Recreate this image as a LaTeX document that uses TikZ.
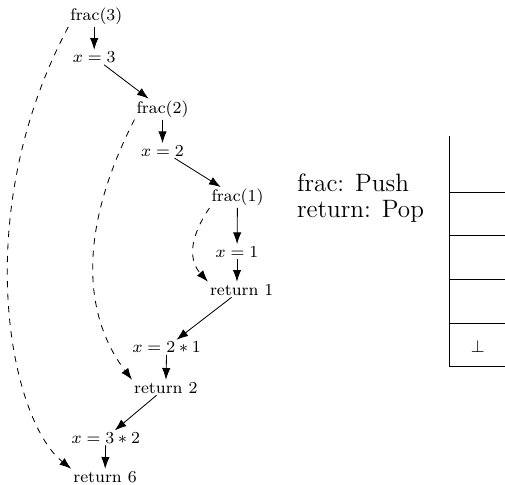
\documentclass[tikz,border=0pt]{standalone}
\usetikzlibrary{arrows.meta}
\begin{document}
\begin{tikzpicture}[x=0.4773pt,y=0.4773pt,
  state/.style={font=\footnotesize, inner sep=0.8pt, anchor=base},
  flow/.style={-{Latex[length=5.6pt,width=4pt]}},
  back/.style={flow, dashed},
  legend/.style={font=\large, inner sep=0pt, anchor=base west}]
\useasboundingbox (0,0) rectangle (505,-484);

% call / return chain
\node[state] (f3)  at (96.3,-20.7)  {frac(3)};
\node[state] (x3)  at (94.2,-62.7)  {$x=3$};
\node[state] (f2)  at (162.5,-113.3) {frac(2)};
\node[state] (x2)  at (162.5,-156)  {$x=2$};
\node[state] (f1)  at (237.5,-201.7) {frac(1)};
\node[state] (x1)  at (237,-257)    {$x=1$};
\node[state] (r1)  at (241.7,-295)  {return 1};
\node[state] (x21) at (166.7,-352.7) {$x=2*1$};
\node[state] (r2)  at (165.8,-393)  {return 2};
\node[state] (x32) at (105.8,-443.3) {$x=3*2$};
\node[state] (r6)  at (105,-482)    {return 6};

\draw[flow] (f3.south -| x3) -- (x3);
\draw[flow] (x3) -- (f2);
\draw[flow] (f2) -- (x2);
\draw[flow] (x2) -- (f1);
\draw[flow] (f1) -- (x1);
\draw[flow] (x1) -- (x1 |- r1.north);
\draw[flow] (r1) -- (x21);
\draw[flow] (x21) -- (r2);
\draw[flow] (r2) -- (x32);
\draw[flow] (x32) -- (r6);

% each call paired with its return
\draw[back] (f3.south west)
  to[out=242,in=141.5,out distance=101.8pt,in distance=37.5pt] (r6.north west);
\draw[back] (f2.south west)
  to[out=243,in=127.4,out distance=70.2pt,in distance=30.2pt] (r2.north west);
\draw[back] (f1.south west)
  to[out=236,in=132,out distance=18.7pt,in distance=13pt] (r1.north west);

% legend
\node[legend] (push) at (296.7,-191.7) {frac: Push};
\node[legend] (pop)  at (296.7,-217.7) {return: Pop};

% stack
\coordinate (stop) at (449.5,-136);
\coordinate (sbot) at (449.5,-366.7);
\coordinate (sright) at (505,-366.7);
\draw (stop) -- (sbot) -- (sright);
\foreach \y in {192.3,235.9,279.5,323.1}
  \draw (449.5,-\y) -- (505,-\y);
\node[state] (bottom) at (477.7,-352.7) {$\perp$};
\end{tikzpicture}
\end{document}
